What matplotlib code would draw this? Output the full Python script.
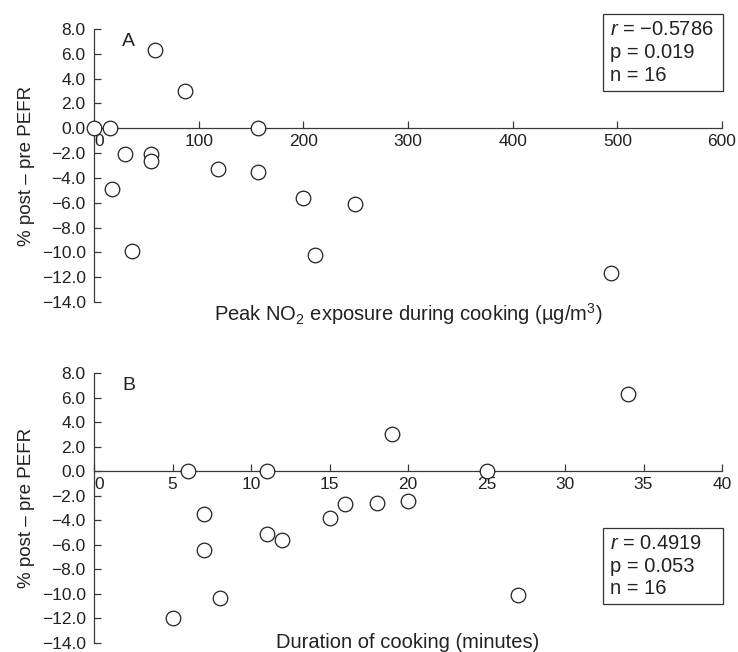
import matplotlib
matplotlib.use('Agg')
from matplotlib import pyplot as plt

plt.rcParams['font.family'] = ['Liberation Sans', 'DejaVu Sans']
plt.rcParams['mathtext.fontset'] = 'custom'
plt.rcParams['mathtext.rm'] = 'Liberation Sans'
plt.rcParams['mathtext.it'] = 'Liberation Sans:italic'

# Panel A: peak NO2 exposure vs % change in PEFR
no2_peak = [0, 15, 58, 87, 30, 54, 54, 17, 36, 118, 157, 157, 200, 211, 249, 494]
pefr_a = [0.0, 0.0, 6.3, 3.0, -2.1, -2.1, -2.6, -4.9, -9.9, -3.3, 0.0, -3.5, -5.6, -10.2, -6.1, -11.7]

# Panel B: duration of cooking vs % change in PEFR
duration = [6, 11, 7, 7, 8, 5, 11, 12, 15, 16, 18, 20, 19, 25, 27, 34]
pefr_b = [0.0, 0.0, -3.5, -6.4, -10.3, -12.0, -5.1, -5.6, -3.8, -2.7, -2.6, -2.4, 3.0, 0.0, -10.1, 6.3]

yticks = [8, 6, 4, 2, 0, -2, -4, -6, -8, -10, -12, -14]
ytick_labels = ['%.1f' % v if v >= 0 else '\u2212%.1f' % abs(v) for v in yticks]

stats_a = ['$r$ = \u22120.5786', 'p = 0.019', 'n = 16']
stats_b = ['$r$ = 0.4919', 'p = 0.053', 'n = 16']

W, H = 738, 652
fig = plt.figure(figsize=(W / 100, H / 100), dpi=100)

line_col = '#3a3a3a'
txt_col = '#222222'


def panel(x0, y_top, y_bot, x, y, xlim, xticks, letter, xlabel, xlabel_y, stats, box):
    ax = fig.add_axes([x0 / W, 1 - y_bot / H, (722 - x0) / W, (y_bot - y_top) / H])
    ax.set_xlim(*xlim)
    ax.set_ylim(-14, 8)
    for s in ['top', 'right']:
        ax.spines[s].set_visible(False)
    ax.spines['bottom'].set_position(('data', 0))
    for s in ['left', 'bottom']:
        ax.spines[s].set_color(line_col)
        ax.spines[s].set_linewidth(0.9)
    ax.set_yticks(yticks)
    ax.set_yticklabels(ytick_labels)
    ax.set_xticks(xticks)
    ax.set_xticklabels([str(t) for t in xticks])
    ax.get_xticklabels()[0].set_horizontalalignment('left')
    ax.tick_params(axis='both', direction='in', length=5, width=0.9, color=line_col,
                   labelsize=12.5, labelcolor=txt_col, pad=6)
    ax.tick_params(axis='x', pad=4)
    ax.scatter(x, y, s=110, facecolor='white', edgecolor=txt_col, linewidth=0.9,
               zorder=5, clip_on=False)
    ax.set_ylabel('% post \u2013 pre PEFR', fontsize=13.5, color=txt_col, labelpad=5)
    ax.text(0.045, 0.955, letter, transform=ax.transAxes, fontsize=14, color=txt_col,
            va='center', ha='left')
    fig.text(408 / W, 1 - xlabel_y / H, xlabel, fontsize=14.5, color=txt_col,
             ha='center', va='center')
    bx0, by0, bx1, by1 = box
    fig.text((bx0 + 7) / W, 1 - (by0 + by1) / 2 / H, '\n'.join(stats), fontsize=14.5,
             color=txt_col, ha='left', va='center', linespacing=1.25)
    rect = plt.Rectangle((bx0 / W, 1 - by1 / H), (bx1 - bx0) / W, (by1 - by0) / H,
                         transform=fig.transFigure, fill=False, edgecolor='#333333',
                         linewidth=0.9)
    fig.patches.append(rect)
    return ax


panel(94, 29, 302, no2_peak, pefr_a, (0, 600), [0, 100, 200, 300, 400, 500, 600], 'A',
      'Peak NO$_2$ exposure during cooking (\u00b5g/m$^3$)', 314,
      stats_a, (603, 14, 723, 91))
panel(94, 373, 643, duration, pefr_b, (0, 40), [0, 5, 10, 15, 20, 25, 30, 35, 40], 'B',
      'Duration of cooking (minutes)', 642,
      stats_b, (603, 528, 723, 604))

fig.savefig('out.png', dpi=100)
